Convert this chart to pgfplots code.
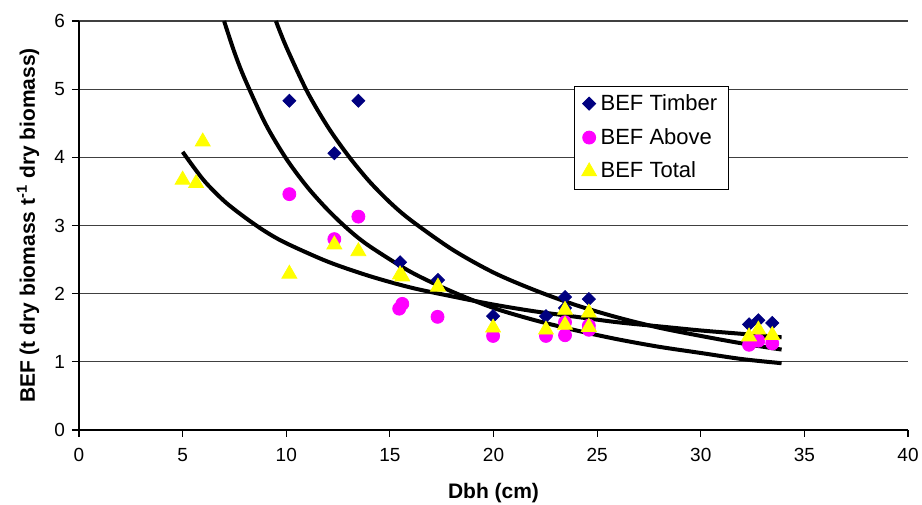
\documentclass[border=0pt]{standalone}
\usepackage{fontspec}
\setmainfont{Liberation Sans}
\usepackage{pgfplots}
\pgfplotsset{compat=1.18}
\definecolor{timber}{RGB}{0,0,128}
\definecolor{above}{RGB}{255,0,255}
\definecolor{total}{RGB}{255,255,0}

\begin{document}
\begin{tikzpicture}
\begin{axis}[
    scale only axis, width=414.5pt, height=204.5pt,
    xmin=0, xmax=40, ymin=0, ymax=6,
    xtick={0,5,...,40}, ytick={0,1,...,6},
    axis x line*=bottom, axis y line*=left,
    tick align=outside, major tick length=3.5pt,
    tick style={black, line width=0.6pt},
    axis line style={black, line width=0.6pt},
    ymajorgrids, major grid style={black!75, line width=0.6pt},
    tick label style={font=\fontsize{9.5}{11}\selectfont},
    xticklabel style={yshift=-2pt},
    /pgf/number format/assume math mode=true,
    xlabel={Dbh (cm)},
    ylabel={BEF (t dry biomass t\textsuperscript{-1} dry biomass)},
    label style={font=\fontsize{10.5}{12}\selectfont\bfseries},
    xlabel style={at={(axis description cs:0.5,-0.154)}, anchor=center},
    ylabel style={at={(axis description cs:-0.0615,0.5)}, anchor=center},
    legend style={at={(axis cs:23.9,5.05)}, anchor=north west, draw=black, fill=white,
        font=\fontsize{11}{12}\selectfont, row sep=3.5pt, inner xsep=3.5pt, inner ysep=2pt},
    legend cell align=left,
]
% data points
\addplot[only marks, color=timber, mark=square*, mark size=2.3pt, mark options={rotate=45}] table {
x y
10.15 4.83
13.48 4.83
12.32 4.06
15.49 2.46
17.32 2.20
19.98 1.67
22.53 1.67
23.45 1.95
23.45 1.79
24.60 1.92
32.33 1.55
32.78 1.61
33.45 1.57
};
\addlegendentry{BEF Timber}
\addplot[only marks, color=above, mark=*, mark size=3.25pt] table {
x y
10.15 3.46
13.48 3.13
12.32 2.80
15.45 1.78
15.60 1.85
17.30 1.66
19.98 1.38
22.53 1.38
23.45 1.39
23.45 1.58
24.60 1.47
24.60 1.53
32.33 1.25
32.78 1.31
33.45 1.27
};
\addlegendentry{BEF Above}
\addplot[only marks, color=total, mark=triangle*, mark size=4.3pt] table {
x y
5.00 3.67
5.65 3.62
5.97 4.23
10.15 2.29
12.32 2.72
13.48 2.62
15.49 2.28
15.60 2.25
17.32 2.10
19.98 1.50
22.53 1.47
23.45 1.76
23.45 1.54
24.60 1.72
24.60 1.51
32.33 1.37
32.78 1.47
33.45 1.39
};
\addlegendentry{BEF Total}
% fitted curves
\addplot[black, line width=2pt, smooth, forget plot] table {
x y
9.5 6.00
10 5.62
11 4.97
12 4.45
13 4.02
14 3.65
15 3.34
16 3.08
18 2.65
20 2.31
22 2.05
24 1.83
26 1.65
28 1.50
30 1.38
32 1.27
33.9 1.18
};
\addplot[black, line width=2pt, smooth, forget plot] table {
x y
7.0 6.00
7.5 5.54
8 5.15
9 4.49
10 3.98
11 3.57
12 3.23
13 2.94
14 2.70
16 2.32
18 2.03
20 1.79
22 1.61
24 1.46
26 1.33
28 1.22
30 1.13
32 1.04
33.9 0.98
};
\addplot[black, line width=2pt, smooth, forget plot] table {
x y
5 4.08
6 3.67
7 3.36
8 3.12
9 2.91
10 2.74
12 2.47
14 2.26
16 2.09
18 1.96
20 1.84
22 1.74
24 1.66
26 1.58
28 1.52
30 1.46
32 1.41
33.9 1.36
};
\end{axis}
\pgfresetboundingbox
\path[use as bounding box] ([shift={(-39.5pt,-37.5pt)}]current axis.south west)
    rectangle ([shift={(7pt,10.5pt)}]current axis.north east);
\end{tikzpicture}
\end{document}
